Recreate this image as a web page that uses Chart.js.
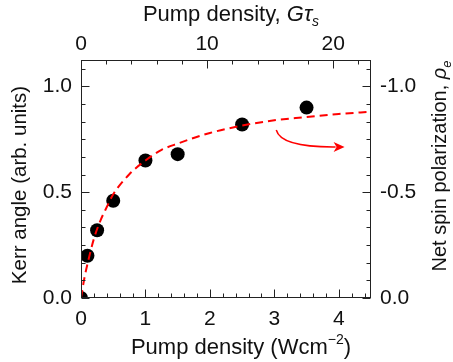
<!DOCTYPE html>
<html><head><meta charset="utf-8">
<script src="https://cdn.jsdelivr.net/npm/chart.js@4.4.1/dist/chart.umd.min.js"></script>
<style>html,body{margin:0;padding:0;background:#fff}#wrap{width:453px;height:362px}</style>
</head><body><div id="wrap"><canvas id="c" width="453" height="362"></canvas></div>
<script>
// ---- data ----
const pumpDensity = [0, 0.1, 0.25, 0.5, 1.0, 1.5, 2.5, 3.5];          // W cm^-2
const kerrAngle   = [0, 0.20, 0.32, 0.46, 0.65, 0.68, 0.82, 0.90];     // arb. units
const fitX = [0, 0.05, 0.1, 0.2, 0.3, 0.4, 0.5, 0.75, 1.0, 1.25, 1.5, 2.0, 2.5, 3.0, 3.5, 4.0, 4.5];
const fitY = [0, 0.09, 0.16, 0.28, 0.365, 0.43, 0.49, 0.585, 0.65, 0.70, 0.73, 0.78, 0.815, 0.84, 0.855, 0.87, 0.88];
const bottomTicks = [0, 1, 2, 3, 4];
const bottomTickLabels = ['0', '1', '2', '3', '4'];
const topTicks = [0, 10, 20];
const topTickLabels = ['0', '10', '20'];
const leftTicks = [0, 0.5, 1.0];
const leftTickLabels = ['0.0', '0.5', '1.0'];
const rightTicks = [0, -0.5, -1.0];
const rightTickLabels = ['0.0', '-0.5', '-1.0'];
// annotation arrow (data coords: x in W cm^-2, y in arb. units)
const arrowStart = [3.03, 0.794], arrowCtrl = [3.10, 0.712], arrowEnd = [4.09, 0.714];

const FONT = '"Liberation Sans", Arial, Helvetica, sans-serif';
const TXT = '#111';

function setTicks(vals){ return s => { s.ticks = vals.map(v => ({value: v})); }; }

const framePlugin = {
  id: 'frame',
  afterDraw(chart) {
    const ctx = chart.ctx, a = chart.chartArea, s = chart.scales;
    ctx.save();
    ctx.strokeStyle = '#222'; ctx.lineWidth = 1;
    ctx.strokeRect(Math.round(a.left) + 0.5, Math.round(a.top) + 0.5,
                   Math.round(a.right - a.left) - 1, Math.round(a.bottom - a.top) - 1);
    const L = Math.round(a.left) + 0.5, R = Math.round(a.right) - 0.5,
          T = Math.round(a.top) + 0.5, B = Math.round(a.bottom) - 0.5;
    ctx.beginPath();
    for (let k = 0; k <= 22; k++) {           // bottom: every 0.2
      const v = k * 0.2; if (v > 4.5) break;
      const px = Math.round(s.x.getPixelForValue(v)) + 0.5;
      const len = (k % 5 === 0) ? 8 : 4;
      ctx.moveTo(px, B); ctx.lineTo(px, B - len);
    }
    for (let v = 0; v <= 23; v += 2) {         // top: every 2
      const px = Math.round(s.xTop.getPixelForValue(v)) + 0.5;
      const len = (v % 10 === 0) ? 8 : 4;
      ctx.moveTo(px, T); ctx.lineTo(px, T + len);
    }
    for (let k = 0; k <= 13; k++) {            // left/right: every 1/12
      const v = k / 12; if (v > 1.125) break;
      const py = Math.round(s.y.getPixelForValue(v)) + 0.5;
      const len = (k % 6 === 0) ? 8 : 4;
      ctx.moveTo(L, py); ctx.lineTo(L + len, py);
      const pr = Math.round(s.yRight.getPixelForValue(-v)) + 0.5;
      ctx.moveTo(R, pr); ctx.lineTo(R - len, pr);
    }
    ctx.stroke();
    ctx.restore();

    // titles
    drawRich(ctx, [
      {t: 'Pump density, ', sz: 22}, {t: 'G', i: true, sz: 22}, {t: '\u03C4', i: true, sz: 22}, {t: 's', i: true, sz: 14, dy: 5}
    ], 231, 21, 0);
    drawRich(ctx, [
      {t: 'Pump density (Wcm', sz: 22}, {t: '\u22122', sz: 14, dy: -10}, {t: ')', sz: 22}
    ], 241, 354, 0);
    drawRich(ctx, [{t: 'Kerr angle (arb. units)', sz: 20.5}], 185, 26, -1);
    drawRich(ctx, [
      {t: 'Net spin polarization, '}, {t: '\u03C1', i: true}, {t: 'e', i: true, sz: 13, dy: 5}
    ], 166, 446, -1);
  },
  afterDatasetsDraw(chart) {
    const ctx = chart.ctx, s = chart.scales;
    const p = d => [s.x.getPixelForValue(d[0]), s.y.getPixelForValue(d[1])];
    const a0 = p(arrowStart), c0 = p(arrowCtrl), e0 = p(arrowEnd);
    const headLen = 11, headHalf = 5;
    ctx.save();
    ctx.strokeStyle = '#ff0000'; ctx.fillStyle = '#ff0000'; ctx.lineWidth = 1.5;
    ctx.beginPath();
    ctx.moveTo(a0[0], a0[1]);
    ctx.quadraticCurveTo(c0[0], c0[1], e0[0] - headLen + 2, e0[1]);
    ctx.stroke();
    ctx.beginPath();
    ctx.moveTo(e0[0], e0[1]);
    ctx.lineTo(e0[0] - headLen, e0[1] - headHalf);
    ctx.lineTo(e0[0] - headLen + 3, e0[1]);
    ctx.lineTo(e0[0] - headLen, e0[1] + headHalf);
    ctx.closePath(); ctx.fill();
    ctx.restore();
  }
};

function drawRich(ctx, segs, center, base, rot) {
  ctx.save();
  const f = sg => (sg.i ? 'italic ' : '') + (sg.sz || 20) + 'px ' + FONT;
  let w = 0;
  segs.forEach(sg => { ctx.font = f(sg); sg.w = ctx.measureText(sg.t).width; w += sg.w; });
  ctx.fillStyle = TXT; ctx.textBaseline = 'alphabetic'; ctx.textAlign = 'left';
  if (rot) { ctx.translate(base, center); ctx.rotate(-Math.PI / 2); }
  else { ctx.translate(center, base); }
  let x = -w / 2;
  segs.forEach(sg => { ctx.font = f(sg); ctx.fillText(sg.t, x, sg.dy || 0); x += sg.w; });
  ctx.restore();
}

const tickFont = {family: FONT, size: 21};
new Chart(document.getElementById('c'), {
  data: {
    datasets: [
      {
        type: 'line', label: 'fit', order: 0,
        data: fitX.map((x, i) => ({x, y: fitY[i]})),
        borderColor: '#ff0000', borderWidth: 2, borderDash: [8, 5],
        pointRadius: 0, fill: false, cubicInterpolationMode: 'monotone', clip: 0,
        xAxisID: 'x', yAxisID: 'y'
      },
      {
        type: 'scatter', label: 'Kerr', order: 1,
        data: pumpDensity.map((x, i) => ({x, y: kerrAngle[i]})),
        backgroundColor: '#000', borderWidth: 0, pointRadius: 7, clip: 0,
        xAxisID: 'x', yAxisID: 'y'
      }
    ]
  },
  options: {
    responsive: false, animation: false, events: [],
    layout: {padding: 0},
    plugins: {legend: {display: false}, tooltip: {enabled: false}},
    scales: {
      x: {
        type: 'linear', position: 'bottom', min: 0, max: 4.5,
        afterBuildTicks: setTicks(bottomTicks),
        afterFit: s => { s.height = 64; },
        grid: {display: false, drawTicks: false}, border: {display: false},
        ticks: {font: tickFont, color: TXT, padding: 9, maxRotation: 0,
                callback: (v, i) => bottomTickLabels[i]}
      },
      xTop: {
        type: 'linear', position: 'top', min: 0, max: 23,
        afterBuildTicks: setTicks(topTicks),
        afterFit: s => { s.height = 60; },
        grid: {display: false, drawTicks: false}, border: {display: false},
        ticks: {font: tickFont, color: TXT, padding: 3, maxRotation: 0,
                callback: (v, i) => topTickLabels[i]}
      },
      y: {
        type: 'linear', position: 'left', min: 0, max: 1.125,
        afterBuildTicks: setTicks(leftTicks),
        afterFit: s => { s.width = 81; },
        grid: {display: false, drawTicks: false}, border: {display: false},
        ticks: {font: tickFont, color: TXT, padding: 9,
                callback: (v, i) => leftTickLabels[i]}
      },
      yRight: {
        type: 'linear', position: 'right', min: -1.125, max: 0, reverse: true,
        afterBuildTicks: setTicks(rightTicks),
        afterFit: s => { s.width = 82; },
        grid: {display: false, drawTicks: false}, border: {display: false},
        ticks: {font: tickFont, color: TXT, padding: 9,
                callback: (v, i) => rightTickLabels[i]}
      }
    }
  },
  plugins: [framePlugin]
});
</script>
</body></html>
